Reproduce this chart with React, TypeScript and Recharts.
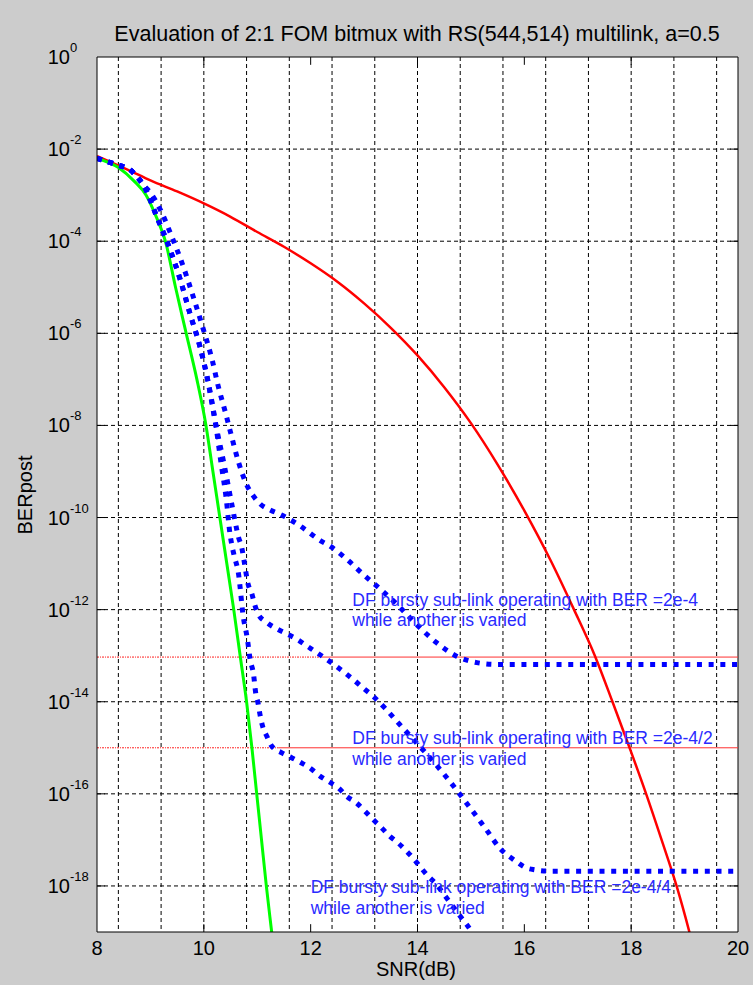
import React from 'react';
import { LineChart, Line, XAxis, YAxis, CartesianGrid, ReferenceLine, ReferenceDot } from 'recharts';

const FONT = 'Arial, "Liberation Sans", Helvetica, sans-serif';

// ---- axes / grid ----
const xTicks = [8, 10, 12, 14, 16, 18, 20];
const yTicks = [1, 1e-2, 1e-4, 1e-6, 1e-8, 1e-10, 1e-12, 1e-14, 1e-16, 1e-18];
const xGrid = [8.4, 8.8, 9.2, 9.6, 10, 10.4, 10.8, 11.2, 11.6, 12, 12.4, 12.8, 13.2, 13.6, 14, 14.4, 14.8, 15.2, 15.6, 16, 16.4, 16.8, 17.2, 17.6, 18, 18.4, 18.8, 19.2, 19.6];
const yGrid = [1e-2, 1e-4, 1e-6, 1e-8, 1e-10, 1e-12, 1e-14, 1e-16, 1e-18];

// ---- series (x in dB, value as log10 exponent) ----
const redX = [8.0, 8.6, 9.0, 9.5, 10.0, 10.5, 11.0, 11.5, 12.0, 12.5, 13.0, 13.5, 14.0, 14.5, 15.0, 15.5, 16.0, 16.5, 16.93, 17.32, 17.65, 17.97, 18.28, 18.57, 18.85, 19.09, 19.2];
const redExp = [-2.15, -2.46, -2.68, -2.92, -3.18, -3.47, -3.8, -4.12, -4.48, -4.88, -5.35, -5.88, -6.48, -7.17, -7.95, -8.85, -9.85, -10.95, -12.0, -13.0, -14.0, -15.0, -16.0, -17.0, -18.0, -19.0, -19.5];

const greenX = [8.0, 8.4, 8.7, 8.92, 9.12, 9.28, 9.47, 9.67, 9.87, 10.04, 10.17, 10.3, 10.43, 10.56, 10.68, 10.8, 10.9, 10.99, 11.08, 11.17, 11.27, 11.32];
const greenExp = [-2.2, -2.4, -2.7, -3.0, -3.5, -4, -5, -6, -7, -8, -9, -10, -11, -12, -13, -14, -15, -16, -17, -18, -19, -19.5];

const blue1X = [8.0, 8.37, 8.62, 8.75, 8.87, 9.0, 9.2, 9.4, 9.6, 9.8, 10.0, 10.15, 10.27, 10.4, 10.5, 10.65, 10.81, 10.92, 11.05, 11.25, 11.43, 11.8, 12.18, 12.36, 12.67, 12.98, 13.3, 13.61, 13.98, 14.36, 14.73, 15.11, 15.48, 20];
const blue1Exp = [-2.2, -2.34, -2.45, -2.6, -2.78, -2.95, -3.35, -3.9, -4.5, -5.2, -5.95, -6.55, -7.15, -7.7, -8.15, -8.8, -9.31, -9.52, -9.7, -9.84, -9.93, -10.18, -10.5, -10.62, -10.9, -11.23, -11.55, -11.88, -12.32, -12.72, -13.01, -13.15, -13.19, -13.19];

const blue2X = [8.0, 8.37, 8.62, 8.75, 8.87, 9.12, 9.37, 9.56, 9.74, 9.93, 10.07, 10.22, 10.38, 10.53, 10.65, 10.71, 10.75, 10.83, 10.9, 10.95, 11.02, 11.18, 11.37, 11.56, 11.74, 11.93, 12.1, 12.3, 12.49, 12.67, 12.83, 12.98, 13.17, 13.4, 13.61, 13.75, 13.98, 14.26, 14.55, 14.8, 15.08, 15.29, 15.54, 15.85, 16.02, 16.2, 16.5, 20];
const blue2Exp = [-2.2, -2.34, -2.45, -2.6, -2.78, -3.47, -4.19, -4.84, -5.57, -6.3, -7.0, -7.96, -8.85, -9.75, -10.43, -10.65, -10.92, -11.45, -11.66, -11.88, -12.1, -12.28, -12.42, -12.53, -12.64, -12.79, -12.92, -13.08, -13.24, -13.4, -13.55, -13.7, -13.88, -14.15, -14.42, -14.6, -14.89, -15.25, -15.65, -16.02, -16.45, -16.78, -17.18, -17.47, -17.6, -17.65, -17.68, -17.68];

const blue3X = [8.0, 8.37, 8.62, 8.75, 8.87, 9.12, 9.37, 9.56, 9.74, 9.93, 10.07, 10.22, 10.32, 10.42, 10.49, 10.52, 10.56, 10.65, 10.74, 10.81, 10.87, 10.93, 10.97, 11.02, 11.05, 11.1, 11.18, 11.27, 11.46, 11.65, 11.83, 12.0, 12.18, 12.33, 12.52, 12.67, 12.86, 13.02, 13.17, 13.33, 13.48, 13.64, 13.8, 13.92, 14.06, 14.2, 14.36, 14.48, 14.8, 15.01, 15.15];
const blue3Exp = [-2.2, -2.34, -2.45, -2.6, -2.78, -3.47, -4.19, -4.84, -5.57, -6.3, -7.0, -7.96, -8.8, -9.6, -10.36, -10.57, -10.79, -11.23, -12.17, -12.6, -13.1, -13.4, -13.8, -14.06, -14.27, -14.53, -14.75, -14.96, -15.11, -15.22, -15.33, -15.45, -15.62, -15.73, -15.87, -16.05, -16.2, -16.38, -16.56, -16.74, -16.92, -17.07, -17.25, -17.4, -17.6, -17.79, -17.97, -18.16, -18.66, -18.99, -19.3];

// ---- threshold lines ----
const thresholdExp = [-13.03, -15.0];
const thresholdSplitX = [12.2, 11.4];

// ---- annotations ----
const annotationX = [12.78, 12.78, 12.0];
const annotationExp = [-11.92, -14.92, -18.16];
const annotationLine1 = [
  'DF bursty sub-link operating with BER =2e-4',
  'DF bursty sub-link operating with BER =2e-4/2',
  'DF bursty sub-link operating with BER =2e-4/4',
];
const annotationLine2 = 'while another is varied';

const title = 'Evaluation of 2:1 FOM bitmux with RS(544,514) multilink, a=0.5';
const xLabel = 'SNR(dB)';
const yLabel = 'BERpost';

const toPoints = (xs: number[], es: number[]) => xs.map((x, i) => ({ x, y: Math.pow(10, es[i]) }));

const redData = toPoints(redX, redExp);
const greenData = toPoints(greenX, greenExp);
const blue1Data = toPoints(blue1X, blue1Exp);
const blue2Data = toPoints(blue2X, blue2Exp);
const blue3Data = toPoints(blue3X, blue3Exp);

const W = 753;
const H = 985;
const TICK_DX = 0.15; // inward tick length in x units
const TICK_DE = 0.17; // inward tick length in decades

const YTick = (props: any) => {
  const { x, y, payload } = props;
  const exp = Math.round(Math.log10(payload.value));
  return (
    <g>
      <text x={x - 27} y={y + 7} textAnchor="end" fontSize={20} fontFamily={FONT} fill="#000">10</text>
      <text x={x - 27} y={y - 5} textAnchor="start" fontSize={13} fontFamily={FONT} fill="#000">{String(exp)}</text>
    </g>
  );
};

const XTick = (props: any) => {
  const { x, y, payload } = props;
  return (
    <text x={x} y={y + 23} textAnchor="middle" fontSize={20} fontFamily={FONT} fill="#000">{payload.value}</text>
  );
};

const makeAnnotation = (i: number) => (p: any) => (
  <text x={p.cx} y={p.cy} fontSize={17.5} fontFamily={FONT} fill="#2a2aff">
    <tspan x={p.cx} dy={0}>{annotationLine1[i]}</tspan>
    <tspan x={p.cx} dy={20.5}>{annotationLine2}</tspan>
  </text>
);

export default function App() {
  return (
    <div style={{ position: 'absolute', left: 0, top: 0, width: W, height: H, background: '#cccccc', overflow: 'hidden' }}>
      <LineChart width={W} height={H} margin={{ top: 57, right: 15, bottom: 0, left: 0 }}>
        <CartesianGrid
          verticalValues={xGrid}
          horizontalValues={yGrid}
          stroke="#000"
          strokeDasharray="4 3"
          strokeWidth={1}
          fill="#ffffff"
          fillOpacity={1}
        />
        <XAxis
          dataKey="x"
          type="number"
          domain={[8, 20]}
          ticks={xTicks}
          allowDataOverflow
          height={53}
          tickSize={0}
          tickMargin={0}
          tickLine={false}
          axisLine={{ stroke: '#000', strokeWidth: 1 }}
          tick={<XTick />}
        />
        <YAxis
          dataKey="y"
          type="number"
          scale="log"
          domain={[1e-19, 1]}
          ticks={yTicks}
          allowDataOverflow
          width={97}
          tickSize={0}
          tickMargin={0}
          tickLine={false}
          axisLine={{ stroke: '#000', strokeWidth: 1 }}
          tick={<YTick />}
        />
        <ReferenceLine x={20} stroke="#000" strokeWidth={1} />
        <ReferenceLine y={1} stroke="#000" strokeWidth={1} />
        {yTicks.slice(1).map((v) => (
          <ReferenceLine key={'yl' + v} segment={[{ x: 8, y: v }, { x: 8 + TICK_DX, y: v }]} stroke="#000" strokeWidth={1} />
        ))}
        {yTicks.slice(1).map((v) => (
          <ReferenceLine key={'yr' + v} segment={[{ x: 20 - TICK_DX, y: v }, { x: 20, y: v }]} stroke="#000" strokeWidth={1} />
        ))}
        {xTicks.slice(1, -1).map((v) => (
          <ReferenceLine key={'xb' + v} segment={[{ x: v, y: 1e-19 }, { x: v, y: Math.pow(10, -19 + TICK_DE) }]} stroke="#000" strokeWidth={1} />
        ))}
        {xTicks.slice(1, -1).map((v) => (
          <ReferenceLine key={'xt' + v} segment={[{ x: v, y: 1 }, { x: v, y: Math.pow(10, -TICK_DE) }]} stroke="#000" strokeWidth={1} />
        ))}
        {thresholdExp.map((e, i) => (
          <ReferenceLine key={'td' + i} segment={[{ x: 8, y: Math.pow(10, e) }, { x: thresholdSplitX[i], y: Math.pow(10, e) }]} stroke="#ff2020" strokeWidth={1} strokeDasharray="2 1 1 1" />
        ))}
        {thresholdExp.map((e, i) => (
          <ReferenceLine key={'ts' + i} segment={[{ x: thresholdSplitX[i], y: Math.pow(10, e) }, { x: 20, y: Math.pow(10, e) }]} stroke="#ff3030" strokeWidth={1} />
        ))}
        <Line data={redData} dataKey="y" type="monotone" stroke="#ff0000" strokeWidth={2.5} dot={false} isAnimationActive={false} />
        <Line data={greenData} dataKey="y" type="monotone" stroke="#00ff00" strokeWidth={3} dot={false} isAnimationActive={false} />
        <Line data={blue1Data} dataKey="y" type="monotone" stroke="#0000ff" strokeWidth={5} strokeDasharray="5 6.7" dot={false} isAnimationActive={false} />
        <Line data={blue2Data} dataKey="y" type="monotone" stroke="#0000ff" strokeWidth={5} strokeDasharray="5 6.7" dot={false} isAnimationActive={false} />
        <Line data={blue3Data} dataKey="y" type="monotone" stroke="#0000ff" strokeWidth={5} strokeDasharray="5 6.7" dot={false} isAnimationActive={false} />
        {annotationX.map((ax, i) => (
          <ReferenceDot key={'an' + i} x={ax} y={Math.pow(10, annotationExp[i])} r={0} shape={makeAnnotation(i)} />
        ))}
      </LineChart>
      <svg width={W} height={H} style={{ position: 'absolute', left: 0, top: 0, pointerEvents: 'none' }}>
        <text x={417} y={41} textAnchor="middle" fontSize={21.5} fontFamily={FONT} fill="#000">{title}</text>
        <text x={416} y={976} textAnchor="middle" fontSize={20} fontFamily={FONT} fill="#000">{xLabel}</text>
        <text x={32} y={495} textAnchor="middle" fontSize={20} fontFamily={FONT} fill="#000" transform="rotate(-90 32 495)">{yLabel}</text>
      </svg>
    </div>
  );
}
